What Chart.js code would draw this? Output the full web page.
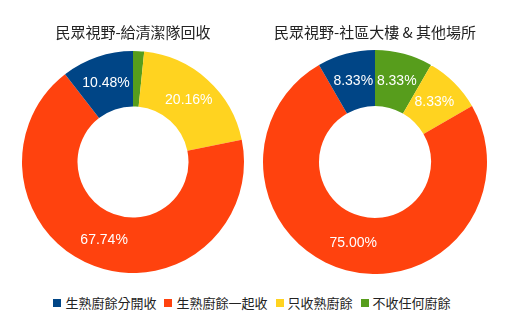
<!DOCTYPE html>
<html>
<head>
<meta charset="utf-8">
<script src="https://cdn.jsdelivr.net/npm/chart.js@4.4.1/dist/chart.umd.min.js"></script>
<style>
  html, body { margin: 0; padding: 0; background: #fff; }
  #wrap { position: relative; width: 520px; height: 325px; overflow: hidden; }
  #c1 { position: absolute; left: 0; top: 0; }
  #c2 { position: absolute; left: 260px; top: 0; }
  #legend {
    position: absolute; left: 0; top: 294px; width: 504px;
    display: flex; justify-content: center; gap: 8px;
    font: 13px "Noto Sans CJK TC", sans-serif; color: #222;
    margin: 0; padding: 0; list-style: none;
  }
  #legend li { display: flex; align-items: center; line-height: 18px; }
  #legend .dot { width: 8px; height: 8px; margin-right: 4px; display: inline-block; }
</style>
</head>
<body>
<div id="wrap">
  <canvas id="c1" width="266" height="273"></canvas>
  <canvas id="c2" width="260" height="274"></canvas>
  <ul id="legend"></ul>
</div>
<script>
'use strict';

// 分類（圖例順序）
const CATEGORIES = ['生熟廚餘分開收', '生熟廚餘一起收', '只收熟廚餘', '不收任何廚餘'];
const COLORS     = ['#004586', '#ff420e', '#ffd320', '#579d1c'];

// 兩個問卷題目的回答數
const TITLE_LEFT   = '民眾視野-給清潔隊回收';
const VALUES_LEFT  = [13, 84, 25, 2];
const TITLE_RIGHT  = '民眾視野-社區大樓 & 其他場所';
const VALUES_RIGHT = [1, 9, 1, 1];

// 百分比標籤（太小的扇形不標）
const pctLabels = {
  id: 'pctLabels',
  afterDatasetsDraw(chart) {
    const { ctx } = chart;
    const ds = chart.data.datasets[0];
    const total = ds.data.reduce((a, b) => a + b, 0);
    const meta = chart.getDatasetMeta(0);
    ctx.save();
    ctx.font = '14px "Liberation Sans", Arial, sans-serif';
    ctx.fillStyle = '#fff';
    ctx.textAlign = 'center';
    ctx.textBaseline = 'middle';
    meta.data.forEach((arc, i) => {
      const pct = ds.data[i] / total * 100;
      if (pct < 5) return;
      const p = arc.tooltipPosition();
      ctx.fillText(pct.toFixed(2) + '%', p.x, p.y);
    });
    ctx.restore();
  }
};

// 逆時針排列：資料反轉後交給 Chart.js
function buildDonut(id, title, values, pad, titlePad) {
  new Chart(document.getElementById(id), {
    type: 'doughnut',
    data: {
      labels: CATEGORIES.slice().reverse(),
      datasets: [{
        data: values.slice().reverse(),
        backgroundColor: COLORS.slice().reverse(),
        borderWidth: 0
      }]
    },
    options: {
      responsive: false,
      animation: false,
      cutout: '50%',
      layout: { padding: pad },
      plugins: {
        legend: { display: false },
        tooltip: { enabled: false },
        title: {
          display: true,
          text: title,
          color: '#222',
          font: { size: 15, family: '"Noto Sans CJK TC", sans-serif', weight: 'normal', lineHeight: 1.2 },
          padding: titlePad
        }
      }
    },
    plugins: [pctLabels]
  });
}

buildDonut('c1', TITLE_LEFT, VALUES_LEFT, { left: 22, right: 22, top: 0, bottom: 0 }, { top: 23, bottom: 10 });
buildDonut('c2', TITLE_RIGHT, VALUES_RIGHT, { left: 3, right: 33, top: 0, bottom: 0 }, { top: 23, bottom: 9 });

// 共用圖例
document.getElementById('legend').innerHTML = CATEGORIES.map((c, i) =>
  `<li><span class="dot" style="background:${COLORS[i]}"></span>${c}</li>`
).join('');
</script>
</body>
</html>
